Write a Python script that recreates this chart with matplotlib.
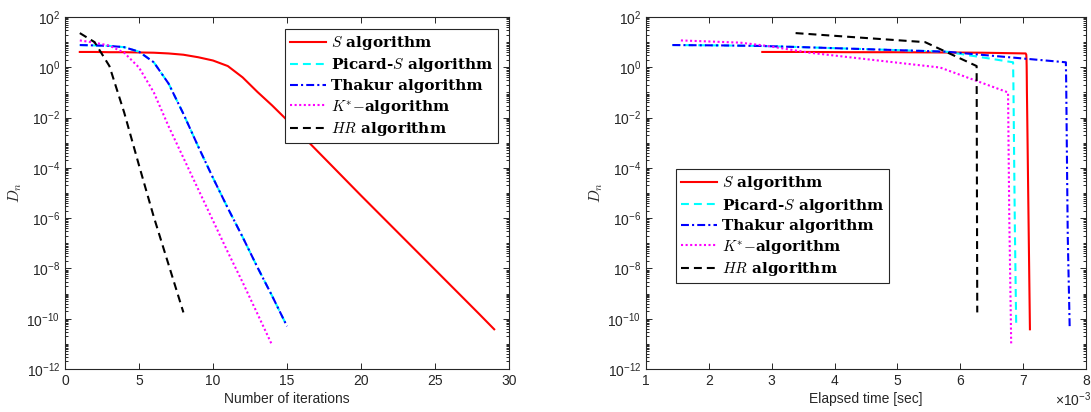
import numpy as np
import matplotlib
matplotlib.use('Agg')
import matplotlib.pyplot as plt
from matplotlib.font_manager import FontProperties
from matplotlib.ticker import LogLocator, NullFormatter

plt.rcParams['font.family'] = 'Liberation Sans'
plt.rcParams['mathtext.fontset'] = 'custom'
plt.rcParams['mathtext.rm'] = 'Liberation Sans'
plt.rcParams['mathtext.it'] = 'Liberation Sans:italic'
plt.rcParams['mathtext.bf'] = 'Liberation Sans:bold'

# D_n per iteration
d_s = [4.07, 4.07, 3.98, 3.98, 3.89, 3.80, 3.55, 3.16, 2.51, 1.86,
       1.12, 0.398, 0.105, 0.0302, 7.94e-3, 2.0e-3, 5.0e-4, 1.26e-4, 3.16e-5, 7.94e-6,
       2.04e-6, 5.25e-7, 1.35e-7, 3.47e-8, 8.91e-9, 2.29e-9, 5.89e-10, 1.51e-10, 3.80e-11]
d_picard = [7.67, 7.41, 7.08, 6.31, 4.17, 1.58, 0.224, 0.0141, 7.08e-4, 3.98e-5,
            2.51e-6, 1.78e-7, 1.12e-8, 7.94e-10, 5.01e-11]
d_thakur = [7.67, 7.41, 7.08, 6.31, 4.17, 1.58, 0.224, 0.0141, 7.08e-4, 3.98e-5,
            2.51e-6, 1.78e-7, 1.12e-8, 7.94e-10, 5.01e-11]
d_kstar = [11.7, 9.55, 7.24, 3.80, 0.977, 0.100, 4.47e-3, 2.51e-4, 1.41e-5, 7.94e-7,
           4.47e-8, 2.82e-9, 1.58e-10, 8.71e-12]
d_hr = [22.9, 10.0, 1.12, 0.0158, 1.26e-4, 1.12e-6, 1.41e-8, 1.78e-10]

# elapsed time per iteration (x 1e-3 sec)
t_s = [2.85, 3.55, 4.25, 4.95, 5.65, 6.35, 7.04, 7.050, 7.052, 7.054,
       7.056, 7.058, 7.060, 7.063, 7.066, 7.069, 7.072, 7.075, 7.078, 7.081,
       7.084, 7.087, 7.090, 7.093, 7.096, 7.099, 7.102, 7.105, 7.108]
t_picard = [1.42, 2.2, 2.8, 3.5, 5.78, 6.84, 6.845, 6.85, 6.855, 6.86,
            6.865, 6.87, 6.877, 6.883, 6.89]
t_thakur = [1.42, 2.2, 2.8, 3.5, 5.78, 7.68, 7.685, 7.69, 7.695, 7.70,
            7.705, 7.71, 7.72, 7.73, 7.74]
t_kstar = [1.555, 2.5, 2.9, 3.6, 5.68, 6.76, 6.765, 6.77, 6.775, 6.78,
           6.788, 6.795, 6.803, 6.81]
t_hr = [3.38, 5.44, 6.26, 6.262, 6.264, 6.266, 6.268, 6.27]

labels = [r'$S$ algorithm',
          r'Picard-$S$ algorithm',
          r'Thakur algorithm',
          r'$K^{*}{-}$algorithm',
          r'$HR$ algorithm']

dark = '#262626'
lw = 1.5


def draw_lines(ax, xs):
	ax.plot(xs[0], d_s, color='red', lw=lw, label=labels[0])
	ax.plot(xs[1], d_picard, color='cyan', lw=lw, dashes=(3.8, 2.4), label=labels[1])
	ax.plot(xs[2], d_thakur, color='blue', lw=lw, dashes=(3.8, 1.5, 1.0, 1.5), label=labels[2])
	ax.plot(xs[3], d_kstar, color='magenta', lw=lw, dashes=(1.0, 1.2), label=labels[3])
	ax.plot(xs[4], d_hr, color='black', lw=lw, dashes=(3.8, 2.4), label=labels[4])


def style_axes(ax):
	ax.set_yscale('log')
	ax.set_ylim(1e-12, 1e2)
	ax.set_yticks([10.0 ** k for k in range(-12, 3, 2)])
	ax.yaxis.set_minor_locator(LogLocator(base=10, subs=np.arange(1, 10), numticks=100))
	ax.yaxis.set_minor_formatter(NullFormatter())
	ax.tick_params(which='both', direction='in', top=True, right=True, colors=dark,
	               labelsize=10, width=0.7)
	ax.tick_params(which='major', length=4.5)
	ax.tick_params(which='minor', length=2.5)
	for sp in ax.spines.values():
		sp.set_color(dark)
		sp.set_linewidth(0.8)
	ax.set_ylabel(r'$D_n$', fontsize=11, color=dark, math_fontfamily='cm', labelpad=2)


leg_font = FontProperties(family='DejaVu Serif', weight='bold', size=11, math_fontfamily='cm')

fig = plt.figure(figsize=(10.91, 4.12), dpi=100)
ax1 = fig.add_axes([65 / 1091, 43 / 412, 444 / 1091, 352 / 412])
ax2 = fig.add_axes([646 / 1091, 43 / 412, 440 / 1091, 352 / 412])

# left panel: D_n against iteration number
iters = [list(range(1, len(d) + 1)) for d in (d_s, d_picard, d_thakur, d_kstar, d_hr)]
draw_lines(ax1, iters)
style_axes(ax1)
ax1.set_xlim(0, 30)
ax1.set_xticks(range(0, 31, 5))
ax1.set_xlabel('Number of iterations', fontsize=10, color=dark, labelpad=3)
leg1 = ax1.legend(loc='upper right', bbox_to_anchor=(0.975, 0.965), borderaxespad=0,
                  prop=leg_font, fancybox=False, framealpha=1, edgecolor=dark,
                  handlelength=2.4, handletextpad=0.3, labelspacing=0.3, borderpad=0.3)
leg1.get_frame().set_linewidth(0.8)

# right panel: D_n against elapsed time
draw_lines(ax2, [t_s, t_picard, t_thakur, t_kstar, t_hr])
style_axes(ax2)
ax2.set_xlim(1, 8)
ax2.set_xticks(range(1, 9))
ax2.set_xlabel('Elapsed time [sec]', fontsize=10, color=dark, labelpad=3)
ax2.text(0.93, -0.088, r'$\times10^{-3}$', transform=ax2.transAxes, fontsize=10,
         color=dark, ha='left', va='center')
leg2 = ax2.legend(loc='upper left', bbox_to_anchor=(0.068, 0.567), borderaxespad=0,
                  prop=leg_font, fancybox=False, framealpha=1, edgecolor=dark,
                  handlelength=2.4, handletextpad=0.3, labelspacing=0.3, borderpad=0.3)
leg2.get_frame().set_linewidth(0.8)

fig.savefig('out.png', dpi=100)
